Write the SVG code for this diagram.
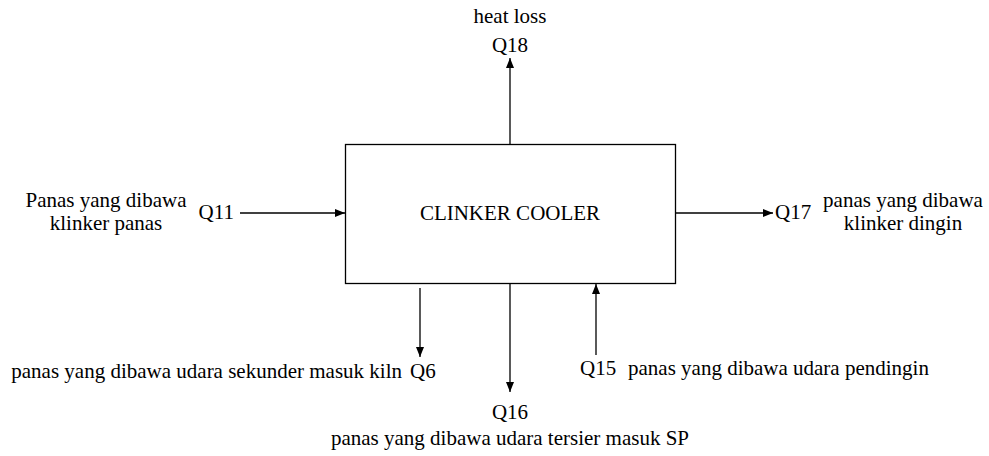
<svg xmlns="http://www.w3.org/2000/svg" width="989" height="456" viewBox="0 0 989 456">
<style>
text{font-family:"Liberation Serif","Times New Roman",serif;font-size:21px;fill:#000}
.c line{stroke:#000;stroke-width:1.3}
.mid{text-anchor:middle}
.end{text-anchor:end}
</style>
<defs>
<marker id="ah" viewBox="0 0 10 10" refX="10" refY="5" markerWidth="10" markerHeight="10" markerUnits="userSpaceOnUse" orient="auto">
<path d="M0,1 L10,5 L0,9 z" fill="#000"/>
</marker>
</defs>
<rect width="989" height="456" fill="#fff"/>
<g id="cooler">
<rect x="345.5" y="144.5" width="330" height="139" fill="#fff" stroke="#000" stroke-width="1.3"/>
<text class="mid" x="510" y="220">CLINKER COOLER</text>
</g>
<g class="c" id="connectors">
<line x1="510" y1="144" x2="510" y2="58" marker-end="url(#ah)"/>
<line x1="240" y1="213" x2="345" y2="213" marker-end="url(#ah)"/>
<line x1="675" y1="213" x2="773" y2="213" marker-end="url(#ah)"/>
<line x1="420" y1="288" x2="420" y2="357" marker-end="url(#ah)"/>
<line x1="510" y1="283" x2="510" y2="392" marker-end="url(#ah)"/>
<line x1="596" y1="355" x2="596" y2="284" marker-end="url(#ah)"/>
</g>
<g id="q18">
<text class="mid" x="510" y="23">heat loss</text>
<text class="mid" x="510" y="52">Q18</text>
</g>
<g id="q11">
<text class="end" x="234" y="219">Q11</text>
<text class="mid" x="106" y="207">Panas yang dibawa</text>
<text class="mid" x="106" y="230">klinker panas</text>
</g>
<g id="q17">
<text x="775" y="219">Q17</text>
<text class="mid" x="903" y="207">panas yang dibawa</text>
<text class="mid" x="903" y="230">klinker dingin</text>
</g>
<g id="q6">
<text class="end" x="402" y="378">panas yang dibawa udara sekunder masuk kiln</text>
<text x="410" y="378">Q6</text>
</g>
<g id="q16">
<text class="mid" x="510" y="419">Q16</text>
<text class="end" x="689" y="445">panas yang dibawa udara tersier masuk SP</text>
</g>
<g id="q15">
<text x="580" y="375">Q15</text>
<text x="628" y="375">panas yang dibawa udara pendingin</text>
</g>
</svg>
